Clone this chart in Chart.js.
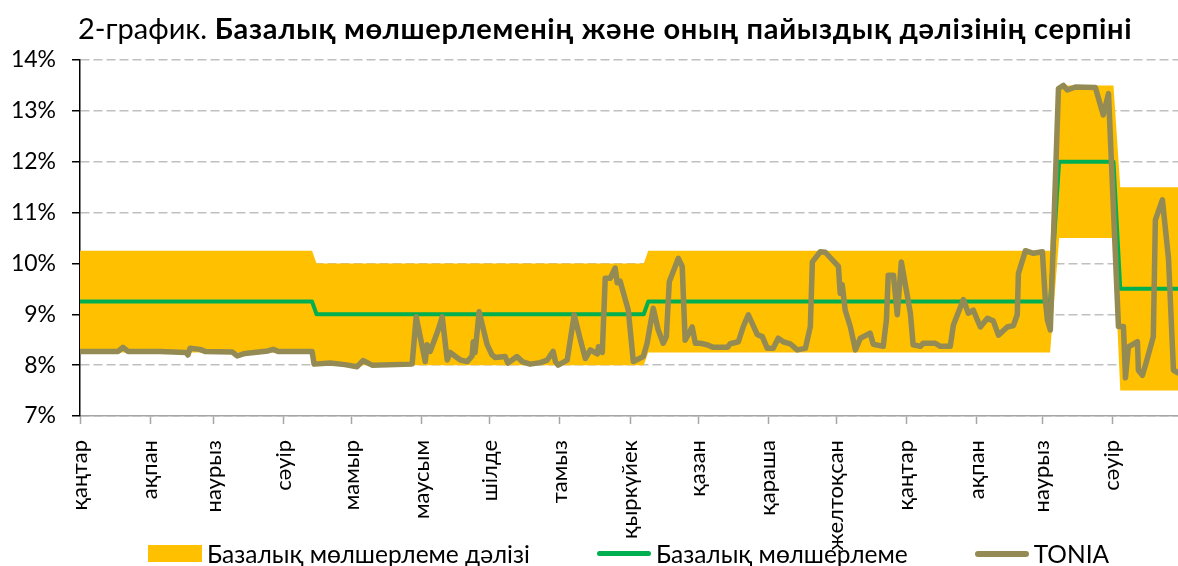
<!DOCTYPE html>
<html>
<head>
<meta charset="utf-8">
<script src="https://cdn.jsdelivr.net/npm/chart.js@4"></script>
<style>
  body { margin: 0; background: #fff; }
  #wrap { position: relative; width: 1178px; height: 566px; font-family: Lato, "Noto Sans", sans-serif; }
  #title { position: absolute; left: 78px; top: 12px; font-size: 29px; line-height: 32px; color: #000; white-space: nowrap; }
  #title b { font-weight: bold; letter-spacing: 0.7px; }
  #legend { position: absolute; left: 148px; top: 541px; display: flex; gap: 67px; font-size: 24.5px; line-height: 25px; white-space: nowrap; }
  .item { display: flex; align-items: center; gap: 5px; }
  .swatch { width: 54px; }
</style>
</head>
<body>
<div id="wrap">
  <canvas id="chart" width="1178" height="566"></canvas>
  <div id="title">2-график. <b>Базалық мөлшерлеменің және оның пайыздық дәлізінің серпіні</b></div>
  <div id="legend"></div>
</div>
<script>
// x = days since 2019-01-01
const monthLabels = ['қаңтар','ақпан','наурыз','сәуір','мамыр','маусым','шілде','тамыз','қыркүйек','қазан','қараша','желтоқсан','қаңтар','ақпан','наурыз','сәуір'];

// corridor / base rate change points
const corridorDays = [0, 102.5, 104.5, 249, 251, 428.5, 432.5, 456.5, 459.5, 485];
const corridorLow  = [8.25, 8.25, 8, 8, 8.25, 8.25, 10.5, 10.5, 7.5, 7.5];
const corridorHigh = [10.25, 10.25, 10, 10, 10.25, 10.25, 13.5, 13.5, 11.5, 11.5];
const baseRate     = [9.25, 9.25, 9, 9, 9.25, 9.25, 12, 12, 9.5, 9.5];

// TONIA
const toniaDays = [
  0, 16.8, 19, 21.2, 35.4, 46.8, 47.7, 48.6, 53, 55.2,
  67.2, 69.4, 72.9, 83, 85.3, 87.5, 102.5, 103.4, 110.5, 117,
  122.4, 125, 129, 146.7, 148.5, 152.5, 153.3, 154.7, 158.2, 160,
  162.2, 163.5, 168, 171, 173.2, 173.7, 174.5, 176.3, 179.8, 182,
  183.4, 187.8, 189, 193, 195.3, 198.8, 203.3, 206.4, 209, 210,
  211.2, 215.2, 218.3, 221, 223.2, 225.4, 228.5, 229, 230.7, 232,
  234.2, 236.4, 237.3, 238.6, 242.2, 244.4, 248.8, 250.5, 253.2, 255.4,
  257.6, 259, 260.3, 264.3, 266, 267.3, 270.4, 271.8, 274, 277,
  279.7, 286, 287.2, 290.8, 293, 295.2, 299.2, 301.4, 303.6, 306.2,
  308.4, 310.6, 313.7, 316.8, 320.4, 322.6, 323.5, 327, 329.2, 335,
  335.8, 336.7, 338, 340.3, 342.5, 344.7, 349, 350.4, 354.8, 356.2,
  357, 359.3, 361, 362.8, 366.8, 368, 371.2, 372.5, 377.8, 380,
  384.4, 385.8, 390.2, 392.4, 394.6, 397.7, 400.8, 403.4, 405.7, 409.6,
  412.3, 414, 414.5, 417.6, 421.1, 425.1, 426.4, 427.3, 428.6, 432.2,
  434.4, 436.1, 439.7, 448.5, 452, 454.3, 458.7, 460.9, 461.8, 463.1,
  467.1, 467.5, 469.3, 470.6, 474.1, 475, 478.1, 480.8, 483, 485
];
const toniaValues = [
  8.27, 8.27, 8.35, 8.27, 8.27, 8.25, 8.2, 8.33, 8.31, 8.27,
  8.26, 8.18, 8.23, 8.28, 8.31, 8.27, 8.27, 8.02, 8.04, 8.01,
  7.97, 8.09, 8.0, 8.02, 8.95, 8.07, 8.40, 8.27, 8.69, 8.95,
  8.10, 8.25, 8.10, 8.07, 8.18, 8.46, 8.25, 9.05, 8.41, 8.2,
  8.15, 8.17, 8.04, 8.17, 8.07, 8.02, 8.05, 8.1, 8.27, 8.07,
  8.0, 8.1, 8.99, 8.5, 8.13, 8.3, 8.22, 8.36, 8.25, 9.71,
  9.71, 9.91, 9.62, 9.65, 9.08, 8.07, 8.17, 8.43, 9.12, 8.69,
  8.43, 8.56, 9.64, 10.1, 9.94, 8.49, 8.75, 8.43, 8.43, 8.4,
  8.35, 8.35, 8.42, 8.46, 8.76, 8.99, 8.6, 8.56, 8.33, 8.33,
  8.53, 8.46, 8.42, 8.3, 8.33, 8.76, 10.03, 10.23, 10.22, 9.94,
  9.41, 9.58, 9.08, 8.75, 8.3, 8.53, 8.63, 8.41, 8.37, 8.89,
  9.77, 9.77, 8.99, 10.03, 9.02, 8.4, 8.37, 8.43, 8.43, 8.37,
  8.37, 8.79, 9.29, 9.02, 9.08, 8.75, 8.92, 8.87, 8.59, 8.75,
  8.78, 8.99, 9.8, 10.25, 10.2, 10.23, 9.28, 8.89, 8.69, 13.44,
  13.5, 13.41, 13.47, 13.46, 12.92, 13.34, 8.76, 8.76, 7.75, 8.36,
  8.46, 7.9, 7.8, 8.0, 8.56, 10.85, 11.25, 10.1, 7.9, 7.85
];

const seriesNames = ['Базалық мөлшерлеме дәлізі', 'Базалық мөлшерлеме', 'TONIA'];
const colors = { band: '#FFC000', base: '#00B050', tonia: '#948A54' };

const day0 = Date.UTC(2019, 0, 1);
const monthStarts = monthLabels.map((m, i) => (Date.UTC(2019, i, 1) - day0) / 864e5);
const pts = (xs, ys) => xs.map((x, i) => ({ x: x, y: ys[i] }));

const fontFamily = 'Lato, "Noto Sans", sans-serif';

new Chart(document.getElementById('chart'), {
  type: 'line',
  data: {
    datasets: [
      { label: seriesNames[2], data: pts(toniaDays, toniaValues), borderColor: colors.tonia, borderWidth: 5.5, order: 0, fill: false },
      { label: seriesNames[1], data: pts(corridorDays, baseRate), borderColor: colors.base, borderWidth: 4, order: 1, fill: false },
      { label: 'low', data: pts(corridorDays, corridorLow), borderWidth: 0, borderColor: 'transparent', order: 2, fill: false },
      { label: seriesNames[0], data: pts(corridorDays, corridorHigh), borderWidth: 0, borderColor: 'transparent', backgroundColor: colors.band, order: 3, fill: 2 }
    ]
  },
  options: {
    responsive: false,
    animation: false,
    layout: { padding: { top: 60, left: 0, right: 0, bottom: 0 } },
    elements: {
      point: { radius: 0 },
      line: { tension: 0, borderJoinStyle: 'round', borderCapStyle: 'round' }
    },
    plugins: { legend: { display: false }, tooltip: { enabled: false } },
    scales: {
      x: {
        type: 'linear', min: 0, max: 485,
        afterBuildTicks: s => { s.ticks = monthStarts.map(v => ({ value: v })); },
        afterFit: s => { s.height = 150; },
        ticks: {
          autoSkip: false, minRotation: 90, maxRotation: 90, padding: 16,
          color: '#000', font: { family: fontFamily, size: 22 },
          callback: (v, i) => monthLabels[i]
        },
        grid: { drawOnChartArea: false, tickLength: 8, tickColor: '#A6A6A6', tickWidth: 1.5 },
        border: { color: '#A6A6A6', width: 1.5 }
      },
      y: {
        min: 7, max: 14,
        afterFit: s => { s.width = 80; },
        ticks: { stepSize: 1, padding: 16, color: '#000', font: { family: fontFamily, size: 23 }, callback: v => v + '%' },
        grid: { color: '#C0C0C0', lineWidth: 1.5, tickLength: 8, tickColor: '#000', tickWidth: 1.5, tickBorderDash: [] },
        border: { color: '#000', width: 1.5, dash: [9, 4] }
      }
    }
  }
});

// legend
const legend = document.getElementById('legend');
const swatches = [
  '<span class="swatch" style="height:17px;background:' + colors.band + '"></span>',
  '<span class="swatch" style="height:5px;border-radius:3px;background:' + colors.base + '"></span>',
  '<span class="swatch" style="height:6px;border-radius:3px;background:' + colors.tonia + '"></span>'
];
seriesNames.forEach((name, i) => {
  const el = document.createElement('div');
  el.className = 'item';
  el.innerHTML = swatches[i] + '<span>' + name + '</span>';
  legend.appendChild(el);
});
</script>
</body>
</html>
